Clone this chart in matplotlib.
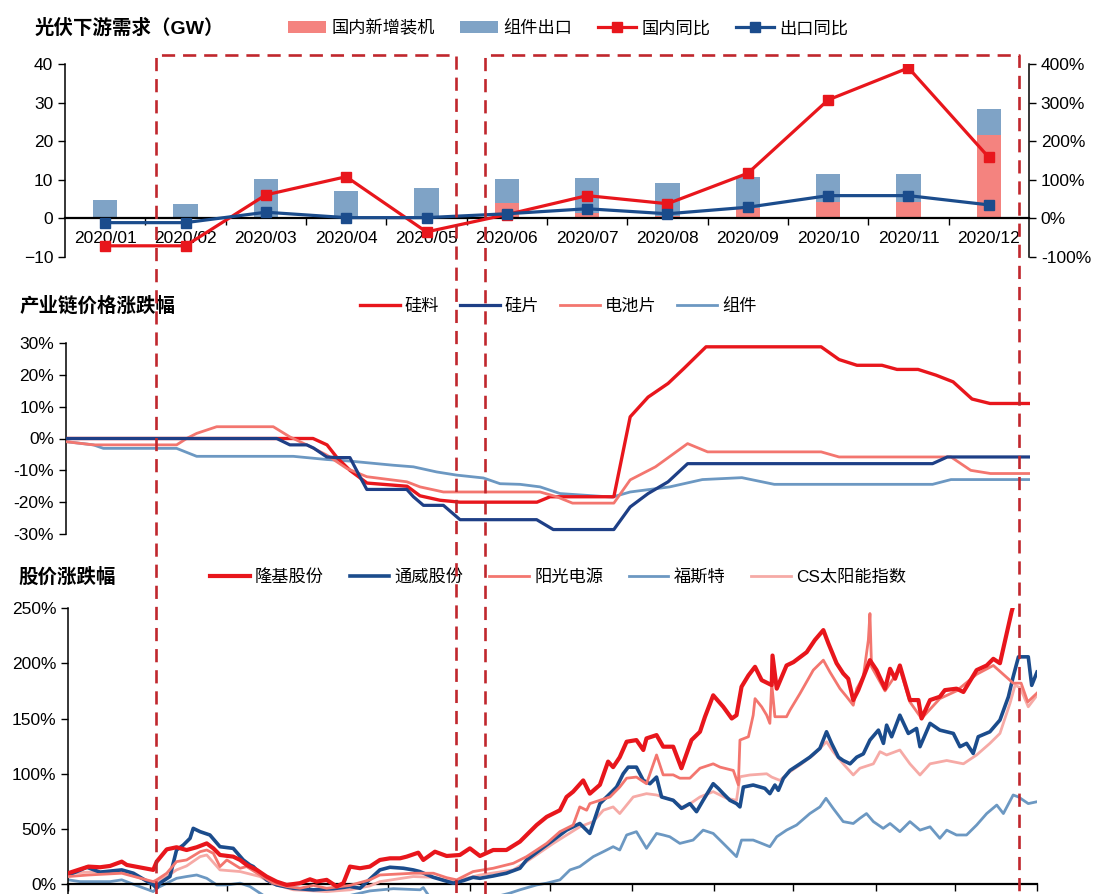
import matplotlib.pyplot as plt
import matplotlib.dates as mdates
import matplotlib.transforms as mtransforms
from matplotlib.lines import Line2D
import numpy as np
import pandas as pd

plt.rcParams['font.family'] = ['Liberation Sans', 'Noto Sans CJK SC']

# ---- panel 1: downstream demand (GW) and yoy (%)
months = ['2020/01', '2020/02', '2020/03', '2020/04', '2020/05', '2020/06',
          '2020/07', '2020/08', '2020/09', '2020/10', '2020/11', '2020/12']
domestic_gw = [0, 0, 0, 0, 0, 4.0, 1.5, 0.5, 2.6, 4.3, 4.3, 21.7]
export_gw = [4.7, 3.7, 10.3, 7.2, 7.8, 6.3, 9.0, 8.7, 8.2, 7.2, 7.2, 6.7]
domestic_yoy = [-71, -71, 61, 108, -35, 10, 59, 38, 117, 307, 390, 158]
export_yoy = [-11, -11, 16, 2, 2, 12, 25, 12, 29, 59, 59, 35]

# ---- panel 2: chain prices, day of 2020 -> % change
si_day = [0, 93.8, 99.1, 102.9, 107.8, 114.3, 129.5, 134.4, 142.0, 149.6, 178.8, 183.8, 208.0, 214.2,
          221.0, 228.6, 234.6, 243.0, 286.7, 293.5, 300.3, 309.8, 315.5, 323.5, 330.3, 336.8, 344.0, 350.8, 366]
si_chg = [0, 0, -2, -6, -10, -14, -15, -18, -19.4, -20, -20, -18.3, -18.3, 6.8,
          13, 17.3, 22, 28.8, 28.8, 24.8, 23, 23, 21.7, 21.7, 19.9, 17.8, 12.4, 11, 11]
wafer_day = [0, 80, 85, 91.4, 94, 99, 102.8, 107.8, 111.6, 114.2, 129.4, 131.9, 135.7, 143.3, 149.6,
             178.7, 185, 208, 214.2, 221, 228.6, 236, 329, 334.6, 366]
wafer_chg = [0, 0, -2, -2, -3, -5.8, -6, -6, -12, -16, -16, -18.3, -21, -21, -25.5,
             -25.5, -28.6, -28.6, -21.5, -17.3, -13.6, -7.9, -7.9, -5.8, -5.8]
cell_day = [0, 10.4, 42, 45.8, 49.6, 57.2, 78.7, 85, 91.4, 99, 106.6, 114.2, 129.4, 134.4, 143.3,
            180, 186.3, 192.3, 208, 214.2, 223.8, 236, 243.6, 286.7, 293.5, 336, 343.5, 351, 366]
cell_chg = [-1, -2, -2, 0, 1.6, 3.7, 3.7, 0.5, -2, -5.2, -9.4, -12, -13.6, -15.2, -16.8,
            -16.8, -18.3, -20.3, -20.3, -13, -8.9, -1.6, -4.2, -4.2, -5.8, -5.8, -10, -11, -11]
module_day = [0, 10.4, 14.2, 42, 49.6, 86.3, 99, 107.8, 124.3, 131.9, 140.7, 148.3, 158.5, 164.8,
              172.4, 180, 187.6, 207.4, 214.2, 229.2, 241.6, 256.6, 268.9, 329, 336, 366]
module_chg = [-1, -2, -3.1, -3.1, -5.6, -5.6, -6.6, -7.1, -8.4, -8.9, -10.5, -11.5, -12.4, -14.2,
              -14.4, -15.2, -17.3, -18.4, -16.8, -15.2, -12.9, -12.3, -14.4, -14.4, -12.9, -12.9]

# ---- panel 3: share prices, day of 2020 -> % change
longi_day = [0, 7.7, 12.1, 15.9, 20.3, 22.2, 32.2, 33.5, 37.3, 41.0,
             44.8, 48.6, 52.4, 54.9, 57.4, 62.4, 65.0, 67.5, 71.3, 75.0,
             78.8, 82.6, 87.6, 91.4, 93.9, 97.7, 101.5, 104.0, 106.5, 110.3,
             114.0, 117.8, 121.6, 125.4, 127.9, 132.3, 134.2, 138.6, 143.0, 148.0,
             151.8, 155.6, 160.6, 165.6, 170.7, 173.8, 177.0, 180.8, 185.8, 188.3,
             190.8, 194.6, 197.1, 200.9, 204.0, 205.9, 208.4, 211.0, 214.7, 217.3,
             218.5, 222.3, 224.8, 228.6, 231.7, 235.5, 238.7, 240.6, 243.7, 247.5,
             250.7, 252.5, 254.4, 257.0, 259.5, 262.0, 265.8, 266.1, 267.7, 271.4,
             274.0, 279.0, 282.1, 285.3, 287.2, 290.3, 292.8, 294.7, 296.6, 298.5,
             302.9, 305.4, 308.6, 310.5, 312.4, 314.2, 318.0, 321.2, 322.4, 325.6,
             329.3, 331.2, 335.6, 338.2, 343.2, 347.0, 349.5, 352.0, 356.4, 357.5]
longi_chg = [10, 16, 15.4, 16.6, 20.5, 17.5, 13, 20.5, 31.6, 33.5,
             31, 33.5, 37, 32.5, 26.5, 25, 22, 17.5, 13, 7,
             2.4, -0.6, 1, 4.5, 2.4, 4, -2, 1, 16, 14.5,
             16, 22, 23.5, 23.5, 25, 28.6, 22, 29.5, 25.6, 26.5,
             32.5, 25.6, 31, 31, 38.6, 46, 53.6, 61, 67, 79,
             83.8, 94, 82, 90, 111, 106, 115, 129, 130.5, 121.5,
             132, 135, 124.5, 124.5, 105, 130.5, 138, 151.6, 171, 160.6,
             150, 153, 178.7, 189, 196.8, 184.7, 180.2, 207, 177, 198,
             201, 210, 221, 230, 218, 200, 190.8, 186, 166.7, 175.7,
             202.8, 193.8, 177, 195, 186, 198, 166.7, 166.7, 150, 166.7,
             169.7, 175.7, 177, 174, 193.8, 198, 204, 200, 246.5, 256]
tongwei_day = [0.1, 3.3, 7.1, 12.1, 20.3, 24.7, 32.2, 33.5, 34.7, 38.5,
               41.0, 43.6, 46.1, 47.3, 49.9, 53.6, 57.4, 62.4, 66.2, 68.7,
               70.0, 75.0, 78.8, 85.1, 92.7, 100.2, 106.5, 110.3, 117.8, 121.6,
               126.7, 130.4, 132.9, 138.0, 145.5, 149.3, 153.0, 155.6, 160.6, 165.6,
               170.7, 173.2, 178.2, 183.3, 188.3, 193.3, 197.1, 200.9, 204.7, 207.2,
               209.7, 211.6, 214.7, 217.3, 219.8, 222.3, 224.2, 228.6, 231.7, 234.9,
               237.4, 239.9, 243.7, 245.6, 247.5, 250.0, 252.5, 253.8, 255.1, 258.8,
               263.2, 265.1, 267.0, 268.3, 270.2, 272.7, 276.5, 280.2, 284.0, 286.5,
               288.4, 291.0, 292.8, 295.4, 297.9, 300.4, 302.9, 306.1, 308.0, 309.2,
               311.1, 314.2, 317.4, 320.5, 321.8, 325.6, 329.3, 334.4, 336.9, 339.4,
               341.9, 343.8, 348.2, 352.0, 355.2, 357.0, 359.0, 362.7, 364.0, 366.0]
tongwei_chg = [8.4, 11.5, 15.4, 11, 13, 10, -0.6, -3.6, 1, 7,
               31, 35.6, 41.6, 50.6, 47.6, 44.6, 34, 32.5, 22, 17.5,
               16, 4, -0.6, -3.6, -5, -4, -2, -3.6, 13, 15.4,
               14.5, 13, 11.5, 6.3, 1, 3.3, 6.3, 5.4, 7.5, 10,
               14.5, 22, 31, 40, 49, 55, 46, 73, 82, 88,
               100, 106, 106, 94, 91, 97, 79, 76, 68.7, 73,
               65.7, 76, 91, 86.8, 82, 76, 73, 70, 88, 89.8,
               86.8, 82, 89.8, 85, 95.8, 103, 109, 115, 123, 138,
               127.5, 115, 112, 109, 115, 118, 130.5, 139.5, 127.5, 144,
               133.5, 153, 136.5, 141, 124.5, 145.6, 139.5, 136.5, 124.5, 127.5,
               118.4, 133.5, 138, 148.6, 169.7, 187.8, 205.8, 205.8, 180, 192]
sungrow_day = [0.1, 7.7, 20.3, 32.2, 33.5, 37.3, 41.0, 44.8, 49.9, 52.4,
               54.9, 57.4, 60.0, 65.0, 67.5, 72.5, 77.5, 82.6, 87.6, 92.7,
               97.7, 106.5, 114.0, 117.8, 130.4, 138.0, 143.0, 146.8, 153.0, 160.6,
               168.2, 173.2, 180.8, 185.8, 190.8, 193.3, 195.9, 197.1, 200.9, 204.7,
               208.4, 211.0, 214.7, 218.5, 222.3, 224.8, 228.6, 231.1, 234.9, 238.7,
               243.7, 246.3, 251.3, 253.2, 253.8, 257.0, 258.8, 259.5, 262.0, 263.9,
               265.1, 265.8, 267.0, 271.4, 272.7, 276.5, 281.5, 285.3, 287.8, 291.6,
               294.1, 296.6, 297.9, 300.4, 302.3, 302.9, 303.5, 308.6, 314.2, 318.0,
               322.4, 329.3, 335.6, 343.2, 349.5, 357.0, 360.0, 362.5, 366.0]
sungrow_chg = [7, 8.4, 10, 2.4, 4, 10, 20.5, 22, 29.5, 31,
               28, 16, 22, 14.5, 16, 8.4, 1, -2, -3.6, -1,
               -3.6, -1, 4, 8.4, 10, 10, 6, 4, 11.5, 14.5,
               19, 25, 37, 47.6, 53.6, 70, 67, 73, 76, 79,
               88, 96, 97, 91, 117, 99, 99, 96, 96, 105,
               109, 106, 103, 90, 130.5, 133.5, 153, 168, 160.6, 153,
               145.6, 181.7, 151.6, 151.6, 157.6, 172.7, 193.8, 202.8, 192, 177,
               169.7, 162, 177, 187.8, 221, 245, 196.8, 175, 195, 165,
               150, 168, 175, 190, 198, 182, 182, 165, 173]
first_day = [0.1, 4.5, 15.9, 20.3, 24.7, 32.2, 33.5, 37.3, 41.0, 44.8,
             48.6, 52.4, 56.2, 60.0, 65.0, 68.7, 72.5, 76.3, 97.7, 114.0,
             122.9, 133.0, 134.2, 136.7, 155.6, 166.9, 170.7, 177.0, 180.8, 185.8,
             189.6, 193.3, 198.4, 202.2, 205.9, 208.4, 211.0, 214.7, 218.5, 222.3,
             224.8, 227.3, 231.1, 236.1, 239.9, 243.7, 247.5, 252.5, 254.4, 258.8,
             262.0, 265.1, 267.7, 271.4, 275.2, 280.2, 284.0, 286.3, 289.0, 292.8,
             296.6, 299.1, 301.6, 304.2, 307.9, 310.5, 314.2, 318.0, 321.8, 325.6,
             329.3, 331.9, 335.6, 339.4, 343.2, 347.0, 350.8, 353.3, 357.0, 359.0,
             362.7, 366.0]
first_chg = [4, 2.4, 2.4, 4, 0, -6.6, -3.6, 1, 5.4, 7,
             8.4, 5.4, -0.6, -0.6, 1, -2, -8, -14, -15, -6,
             -4, -5, -3, -12, -15, -8, -5, -0.6, 1, 4,
             13, 16, 25, 29.5, 34, 31, 44.6, 47.6, 32.5, 46,
             44.6, 43, 37, 40, 49, 46, 37, 25, 40, 40,
             37, 34, 43, 49, 53.6, 64, 70, 77.8, 68.7, 56.7,
             55, 59.7, 64, 56.7, 50.6, 55, 47.6, 56.7, 49, 52,
             41.6, 49, 44.6, 44.6, 53.6, 64, 71.7, 64, 80.8, 79,
             73, 74.7]
csi_day = [0.1, 7.7, 20.3, 32.2, 37.3, 41.0, 44.8, 49.9, 52.4, 57.4,
           65.0, 72.5, 77.5, 85.1, 97.7, 106.5, 114.0, 117.8, 130.4, 138.0,
           145.5, 155.6, 168.2, 173.2, 183.3, 193.3, 198.4, 202.2, 205.9, 208.4,
           213.5, 218.5, 222.3, 228.6, 232.4, 238.7, 243.7, 248.8, 252.5, 253.8,
           257.6, 263.9, 265.8, 268.9, 272.7, 276.5, 281.5, 286.5, 289.0, 292.8,
           296.6, 299.1, 304.2, 306.7, 309.2, 314.2, 318.0, 321.8, 325.6, 331.9,
           338.2, 343.2, 348.2, 352.0, 355.8, 357.7, 359.6, 362.7, 366.0]
csi_chg = [10, 11, 11.5, 1.5, 7, 13, 16.6, 25, 26.5, 13,
           11.5, 7, 0.3, -5, -6.6, -5, -1.5, 2.4, 7, 6.3,
           2.4, 8.4, 13, 20.5, 37, 52, 56.7, 67, 70, 64,
           79, 82, 80.8, 76, 68.7, 79, 83.8, 77.8, 76, 97.3,
           98.9, 100, 97, 94, 101.9, 108, 117, 129, 120, 109,
           98.9, 105, 109, 120, 117, 121.5, 109, 98.9, 109, 112,
           109, 117, 127.5, 136.5, 163.7, 180, 178, 160.6, 171]

# highlighted periods (dashed boxes)
periods = [('2020-02-04', '2020-05-28'), ('2020-06-08', '2020-12-28')]

RED = '#e8161c'
NAVY = '#1b4c8c'
PINK = '#f4837f'
BLUE = '#7fa3c6'
SALMON = '#f3766f'
STEEL = '#6c98c2'
LPINK = '#f6aaa6'
BOX = '#c0272d'

start = pd.Timestamp('2020-01-01')
end = pd.Timestamp('2021-01-01')


def to_dates(days):
    return start + pd.to_timedelta(np.array(days), unit='D')


W, H = 1105, 894


def box(l, t, r, b):
    return [l / W, 1 - b / H, (r - l) / W, (b - t) / H]


fig = plt.figure(figsize=(W / 100, H / 100), dpi=100)
fig.patch.set_facecolor('white')

# ---------------- panel 1
ax1 = fig.add_axes(box(65, 64, 1029, 257))
x = np.arange(len(months))
b1 = ax1.bar(x, domestic_gw, width=0.3, color=PINK, zorder=2)
b2 = ax1.bar(x, export_gw, bottom=domestic_gw, width=0.3, color=BLUE, zorder=2)
ax1.set_xlim(-0.5, 11.5)
ax1.set_ylim(-10, 40)
ax1.set_yticks(range(-10, 41, 10))
ax1.set_xticks(x, months)
ax1.set_xticks(x[:-1] + 0.5, minor=True)
ax1.tick_params(axis='x', which='major', length=0, pad=9, labelsize=12.5)
ax1.tick_params(axis='x', which='minor', length=5, width=1, direction='out')
ax1.tick_params(axis='y', labelsize=12.5, length=5, width=1)
for s in ['top', 'right']:
    ax1.spines[s].set_visible(False)
ax1.spines['bottom'].set_position(('data', 0))
ax1.spines['bottom'].set_linewidth(1.6)
ax1.spines['left'].set_linewidth(1.1)

ax1r = ax1.twinx()
l1, = ax1r.plot(x, domestic_yoy, color=RED, lw=2.3, marker='s', ms=7)
l2, = ax1r.plot(x, export_yoy, color=NAVY, lw=2.3, marker='s', ms=7)
ax1r.set_ylim(-100, 400)
ax1r.set_yticks(range(-100, 401, 100))
ax1r.yaxis.set_major_formatter(lambda v, p: f'{v:.0f}%')
ax1r.tick_params(axis='y', labelsize=12.5, length=5, width=1)
for s in ['top', 'left', 'bottom']:
    ax1r.spines[s].set_visible(False)
ax1r.spines['right'].set_linewidth(1.1)

fig.text(35 / W, 1 - 28 / H, '光伏下游需求（GW）', fontsize=14, fontweight='bold', va='center')
fig.legend([b1, b2, l1, l2], ['国内新增装机', '组件出口', '国内同比', '出口同比'],
           loc='center left', bbox_to_anchor=(288 / W, 1 - 28 / H), ncol=4, frameon=False,
           fontsize=12.4, borderpad=0, borderaxespad=0, handlelength=2.2,
           handletextpad=0.3, columnspacing=1.5)

# ---------------- panel 2
ax2 = fig.add_axes(box(66, 343, 1030, 534))
ax2.plot(to_dates(si_day), si_chg, color=RED, lw=2.4, label='硅料', zorder=3)
ax2.plot(to_dates(wafer_day), wafer_chg, color='#1e3f86', lw=2.3, label='硅片', zorder=4)
ax2.plot(to_dates(cell_day), cell_chg, color=SALMON, lw=2.0, label='电池片', zorder=3)
ax2.plot(to_dates(module_day), module_chg, color=STEEL, lw=2.0, label='组件', zorder=2)
ax2.set_xlim(start, end)
ax2.set_ylim(-30, 30)
ax2.set_yticks(range(-30, 31, 10))
ax2.yaxis.set_major_formatter(lambda v, p: f'{v:.0f}%')
ax2.set_xticks([])
ax2.tick_params(axis='y', labelsize=12.5, length=5, width=1)
for s in ['top', 'right', 'bottom']:
    ax2.spines[s].set_visible(False)
ax2.spines['left'].set_linewidth(1.1)
fig.text(20 / W, 1 - 306 / H, '产业链价格涨跌幅', fontsize=14, fontweight='bold', va='center')
ax2.legend(loc='center left', bbox_to_anchor=(360 / W, 1 - 306 / H), bbox_transform=fig.transFigure,
           ncol=4, frameon=False, fontsize=12.4, borderpad=0, borderaxespad=0,
           handlelength=2.3, handletextpad=0.3, columnspacing=1.2)

# ---------------- panel 3
ax3 = fig.add_axes(box(68, 608, 1037, 894))
ax3.plot(to_dates(longi_day), longi_chg, color=RED, lw=3.0, label='隆基股份', zorder=6)
ax3.plot(to_dates(tongwei_day), tongwei_chg, color=NAVY, lw=2.6, label='通威股份', zorder=4)
ax3.plot(to_dates(sungrow_day), sungrow_chg, color=SALMON, lw=2.0, label='阳光电源', zorder=5)
ax3.plot(to_dates(first_day), first_chg, color=STEEL, lw=2.0, label='福斯特', zorder=2)
ax3.plot(to_dates(csi_day), csi_chg, color=LPINK, lw=2.0, label='CS太阳能指数', zorder=3)
ax3.set_xlim(start, end)
ax3.set_ylim(-8.8, 250)
ax3.set_yticks(range(0, 251, 50))
ax3.yaxis.set_major_formatter(lambda v, p: f'{v:.0f}%')
ax3.xaxis.set_major_locator(mdates.MonthLocator())
ax3.tick_params(axis='x', labelbottom=False, length=5, width=1, direction='out')
ax3.tick_params(axis='y', labelsize=12.5, length=5, width=1)
for s in ['top', 'right']:
    ax3.spines[s].set_visible(False)
ax3.spines['bottom'].set_position(('data', 0))
ax3.spines['bottom'].set_linewidth(1.6)
ax3.spines['left'].set_linewidth(1.1)
fig.text(18 / W, 1 - 577 / H, '股价涨跌幅', fontsize=14, fontweight='bold', va='center')
ax3.legend(loc='center left', bbox_to_anchor=(210 / W, 1 - 577 / H), bbox_transform=fig.transFigure,
           ncol=5, frameon=False, fontsize=12.4, borderpad=0, borderaxespad=0,
           handlelength=2.3, handletextpad=0.3, columnspacing=1.5)

# ---------------- dashed boxes spanning all panels
trans = mtransforms.blended_transform_factory(ax2.transData, fig.transFigure)
top = 1 - 55 / H
for a, b in periods:
    x0 = mdates.date2num(pd.Timestamp(a))
    x1 = mdates.date2num(pd.Timestamp(b))
    fig.add_artist(Line2D([x0, x0, x1, x1], [0, top, top, 0], transform=trans,
                          color=BOX, lw=1.9, dashes=(5, 3), zorder=10))

fig.savefig('out.png', dpi=100)
